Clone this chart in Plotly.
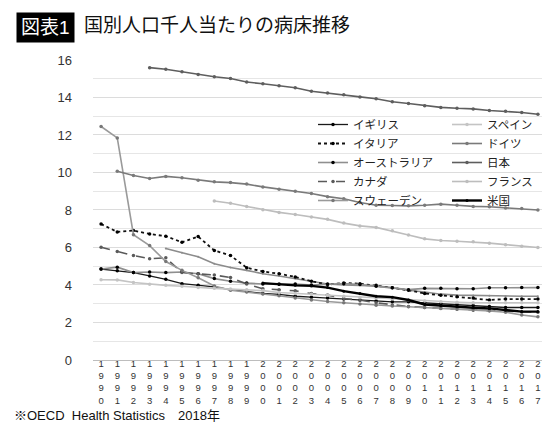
import plotly.graph_objects as go

years = list(range(1990, 2018))
year_labels = ["<br>".join(str(y)) for y in years]

# hospital beds per 1000 population (None = no data)
uk = [4.85, 4.76, 4.66, 4.48, 4.3, 4.07, 3.98, 3.9, 3.75, 3.65, 3.55, 3.5, 3.4, 3.35,
      3.3, 3.25, 3.2, 3.15, 3.1, 3.1, 3.05, 3.0, 2.95, 2.9, 2.85, 2.8, 2.8, 2.8]
spain = [4.28, 4.27, 4.13, 4.04, 3.98, 3.93, 3.86, 3.82, 3.78, 3.74, 3.7, 3.6, 3.55, 3.5,
         3.45, 3.4, 3.35, 3.3, 3.25, 3.2, 3.15, 3.1, 3.08, 3.05, 3.05, 3.05, 3.05, 3.05]
italy = [7.25, 6.83, 6.9, 6.72, 6.6, 6.28, 6.58, 5.84, 5.57, 4.92, 4.72, 4.6, 4.43, 4.2,
         4.02, 4.11, 4.07, 3.98, 3.85, 3.72, 3.55, 3.45, 3.37, 3.3, 3.2, 3.25, 3.25, 3.25]
germany = [None, 10.07, 9.84, 9.68, 9.79, 9.72, 9.59, 9.5, 9.46, 9.38, 9.23, 9.11, 9.0,
           8.88, 8.71, 8.6, 8.4, 8.25, 8.24, 8.22, 8.25, 8.31, 8.25, 8.19, 8.17, 8.11, 8.08, 8.0]
australia = [4.85, 4.95, 4.66, 4.69, 4.66, 4.69, 4.6, 4.34, 4.2, 4.1, 4.05, 4.05, 4.05, 4.0,
             4.05, 4.07, 4.02, 3.93, 3.85, 3.75, 3.82, 3.82, 3.8, 3.8, 3.85, 3.85, 3.86, 3.86]
japan = [None, None, None, 15.59, 15.5, 15.37, 15.22, 15.1, 15.01, 14.82, 14.73, 14.62,
         14.52, 14.33, 14.24, 14.14, 14.03, 13.93, 13.77, 13.68, 13.56, 13.47, 13.42, 13.39,
         13.3, 13.27, 13.2, 13.1]
canada = [6.01, 5.78, 5.57, 5.4, 5.45, 4.66, 4.6, 4.53, 4.4, 4.05, 3.8, 3.75, 3.69, 3.54,
          3.46, 3.28, 3.19, 3.05, 2.93, 2.85, 2.8, 2.75, 2.7, 2.65, 2.62, 2.6, 2.56, 2.55]
france = [None] * 7 + [8.48, 8.36, 8.19, 8.01, 7.87, 7.76, 7.62, 7.5, 7.3, 7.15, 7.07,
                       6.89, 6.67, 6.46, 6.37, 6.33, 6.3, 6.23, 6.15, 6.07, 6.0]
sweden = [12.45, 11.84, 6.68, 6.1, 5.25, 4.78, 4.39, 3.95, 3.72, 3.62, 3.52, 3.42, 3.3,
          3.2, 3.12, 3.05, 2.98, 2.92, 2.88, 2.84, 2.8, 2.76, 2.72, 2.7, 2.62, 2.55, 2.4, 2.3]
usa = [None] * 10 + [4.1, 4.02, 3.98, 3.95, 3.86, 3.67, 3.54, 3.4, 3.35, 3.2, 2.96,
                     2.89, 2.84, 2.79, 2.75, 2.65, 2.58, 2.58]
other = [None] * 4 + [5.95, 5.72, 5.5, 5.13, 4.93, 4.78, 4.6, 4.48, 4.34, 4.2, 4.05,
                      4.0, 3.98, 3.95, 3.85, 3.72, 3.63, 3.51, 3.46, 3.44, 3.42, 3.4, 3.4, 3.4]

FONT = "Liberation Sans, Noto Sans CJK JP, sans-serif"
W, H = 550, 435
ML, MR, MT, MB = 85, 12, 51, 83

fig = go.Figure()


def add(name, values, color, width=1.6, dash="solid", mcolor=None, msize=3.5,
        legend="legend", show=True):
    fig.add_trace(go.Scatter(
        x=years, y=values, name=name, mode="lines+markers",
        line=dict(color=color, width=width, dash=dash),
        marker=dict(color=mcolor or color, size=msize),
        showlegend=show, legend=legend,
    ))


# unlabeled series drawn first so it sits underneath
add("", other, "#8c8c8c", show=False, msize=2)
# left legend column
add("イギリス", uk, "#1a1a1a", width=1.3, mcolor="#000000")
add("イタリア", italy, "#111111", width=1.8, dash="dot", mcolor="#000000")
add("オーストラリア", australia, "#8f8f8f", mcolor="#000000")
add("カナダ", canada, "#5a5a5a", dash="dash")
add("スウェーデン", sweden, "#9a9a9a", mcolor="#777777")
# right legend column
add("スペイン", spain, "#c4c4c4", legend="legend2")
add("ドイツ", germany, "#7a7a7a", legend="legend2")
add("日本", japan, "#5e5e5e", legend="legend2")
add("フランス", france, "#bdbdbd", legend="legend2")
add("米国", usa, "#000000", width=2.4, msize=3, legend="legend2")


def px_x(p):
    return (p - ML) / (W - ML - MR)


def px_y(p):
    return 1 - (p - MT) / (H - MT - MB)


legend_style = dict(
    orientation="v", yanchor="top", xanchor="left", y=px_y(102),
    bgcolor="rgba(0,0,0,0)", font=dict(size=11.5, color="#222222"),
    itemwidth=30, tracegroupgap=0, traceorder="normal",
)

fig.update_layout(
    width=W, height=H,
    margin=dict(l=ML, r=MR, t=MT, b=MB),
    paper_bgcolor="white", plot_bgcolor="white",
    font=dict(family=FONT, size=12, color="#222222"),
    legend=dict(legend_style, x=px_x(305)),
    legend2=dict(legend_style, x=px_x(439)),
    annotations=[
        dict(text="図表1", x=px_x(8), y=px_y(4), xref="paper", yref="paper",
             showarrow=False, font=dict(size=19, color="white"),
             bgcolor="#000000", borderpad=4, xanchor="left", yanchor="top"),
        dict(text="国別人口千人当たりの病床推移", x=px_x(74), y=px_y(5),
             xref="paper", yref="paper", showarrow=False,
             font=dict(size=19, color="#111111"), xanchor="left", yanchor="top"),
        dict(text="※OECD  Health Statistics　2018年", x=px_x(4), y=px_y(398),
             xref="paper", yref="paper", showarrow=False,
             font=dict(size=13, color="#111111"), xanchor="left", yanchor="top"),
    ],
)

fig.update_xaxes(
    range=[1989.5, 2017.5], tickvals=years, ticktext=year_labels,
    showgrid=False, zeroline=False, showline=False, ticks="",
    tickfont=dict(size=9.5, color="#333333"), tickangle=0, ticklabelstandoff=-4,
)
fig.update_yaxes(
    range=[0, 16.05], tickvals=list(range(0, 17, 2)),
    showgrid=True, gridcolor="#dcdcdc", gridwidth=1,
    minor=dict(dtick=1, showgrid=True, gridcolor="#e6e6e6", gridwidth=1),
    zeroline=True, zerolinecolor="#bdbdbd", zerolinewidth=1,
    showline=False, ticks="", ticklabelstandoff=20,
    tickfont=dict(size=13, color="#333333"),
)

fig.write_html("out.html")
